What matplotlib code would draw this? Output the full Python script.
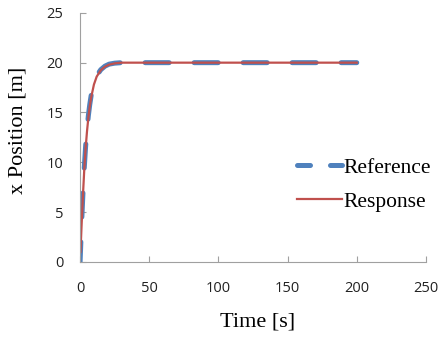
import matplotlib
matplotlib.use("Agg")
import matplotlib.pyplot as plt
from matplotlib.lines import Line2D

# step target (reference) and measured position (response)
t_ref = [0, 1, 2, 3, 4, 5, 6, 7, 8, 10, 12, 15, 18, 21, 25, 30, 50, 75, 100, 125, 150, 175, 200]
x_ref = [0, 3.6, 6.7, 9.4, 11.6, 13.3, 14.7, 15.8, 16.7, 17.9, 18.7, 19.3, 19.65, 19.85, 19.95, 20.0,
         20.0, 20.0, 20.0, 20.0, 20.0, 20.0, 20.0]

t_resp = [0.3, 1, 2, 3, 4, 5, 6, 7, 8, 10, 12, 15, 18, 21, 25, 30, 50, 75, 100, 125, 150, 175, 200]
x_resp = [1.0, 3.4, 6.5, 9.2, 11.4, 13.1, 14.5, 15.6, 16.5, 17.8, 18.6, 19.25, 19.6, 19.8, 19.93, 20.0,
          20.0, 20.0, 20.0, 20.0, 20.0, 20.0, 20.0]

blue = "#4f81bd"
red = "#c0504d"

fig = plt.figure(figsize=(4.4, 3.38), dpi=100)
ax = fig.add_axes([0.182, 0.225, 0.786, 0.737])

ax.plot(t_ref, x_ref, color=blue, lw=3.6, linestyle=(0.8, (4.8, 5.0)),
        dash_capstyle="round", solid_capstyle="round")
ax.plot(t_resp, x_resp, color=red, lw=1.6)

ax.set_xlim(0, 250)
ax.set_ylim(0, 25)
ax.set_xticks([0, 50, 100, 150, 200, 250])
ax.set_yticks([0, 5, 10, 15, 20, 25])

for s in ["top", "right"]:
    ax.spines[s].set_visible(False)
for s in ["left", "bottom"]:
    ax.spines[s].set_color("#a0a0a0")
ax.tick_params(direction="in", length=4, color="#a0a0a0", labelsize=10.5,
               labelcolor="#222222")
ax.tick_params(axis="x", pad=14)
ax.tick_params(axis="y", pad=12)
for lab in ax.get_xticklabels() + ax.get_yticklabels():
    lab.set_fontfamily("Open Sans")

serif = "Liberation Serif"
ax.set_xlabel("Time [s]", fontfamily=serif, fontsize=16)
ax.set_ylabel("x Position [m]", fontfamily=serif, fontsize=16)
ax.xaxis.set_label_coords(0.514, -0.24)
ax.xaxis.label.set_va("center")
ax.yaxis.set_label_coords(-0.179, 0.53)
ax.yaxis.label.set_va("center")

# legend keys: shorter dash for the reference key
handles = [
    Line2D([], [], color=blue, lw=3.6, linestyle=(0, (2.6, 4.0)),
           dash_capstyle="round"),
    Line2D([], [], color=red, lw=1.6),
]
ax.legend(handles, ["Reference", "Response"], loc="center left",
          bbox_to_anchor=(0.627, 0.31), frameon=False,
          prop={"family": serif, "size": 15.5}, handlelength=2.1,
          handletextpad=0.05, labelspacing=0.65, borderpad=0, borderaxespad=0)

fig.savefig("out.png", dpi=100)
